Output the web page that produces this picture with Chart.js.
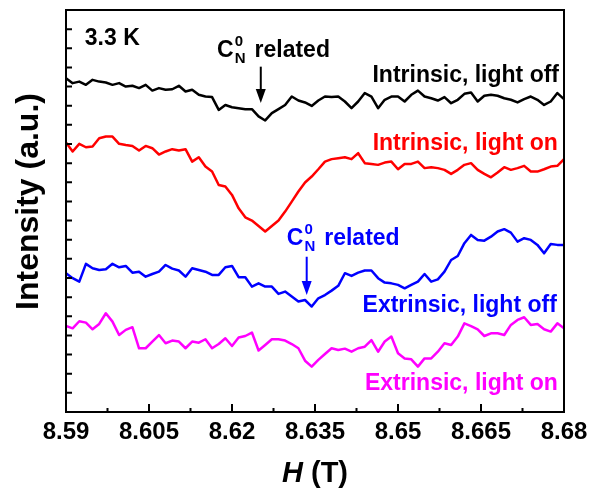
<!DOCTYPE html>
<html>
<head>
<meta charset="utf-8">
<script src="https://cdn.jsdelivr.net/npm/chart.js@4.4.0/dist/chart.umd.min.js"></script>
<style>
  html, body { margin: 0; padding: 0; background: #fff; }
</style>
</head>
<body>
<canvas id="odmr" width="590" height="494"></canvas>
<script>
// magnetic field grid (T)
const field = [
  8.59, 8.5912, 8.5924, 8.5936, 8.5948, 8.596, 8.5972, 8.5984, 8.5996, 8.6008,
  8.602, 8.6032, 8.6044, 8.6056, 8.6068, 8.608, 8.6092, 8.6104, 8.6116, 8.6128,
  8.614, 8.6152, 8.6164, 8.6176, 8.6188, 8.62, 8.6212, 8.6224, 8.6236, 8.6248,
  8.626, 8.6272, 8.6284, 8.6296, 8.6308, 8.632, 8.6332, 8.6344, 8.6356, 8.6368,
  8.638, 8.6392, 8.6404, 8.6416, 8.6428, 8.644, 8.6452, 8.6464, 8.6476, 8.6488,
  8.65, 8.6512, 8.6524, 8.6536, 8.6548, 8.656, 8.6572, 8.6584, 8.6596, 8.6608,
  8.662, 8.6632, 8.6644, 8.6656, 8.6668, 8.668, 8.6692, 8.6704, 8.6716, 8.6728,
  8.674, 8.6752, 8.6764, 8.6776, 8.6788, 8.68
];

// intensities (a.u., curves offset vertically)
const intrinsicOff = [
  17.44, 17.18, 17.26, 17.09, 17.35, 17.26, 17.21, 17.09, 17.18, 17.00,
  17.04, 16.92, 17.09, 16.79, 16.92, 16.83, 16.86, 17.04, 16.74, 16.83,
  16.57, 16.48, 16.45, 15.78, 16.04, 15.92, 15.87, 15.82, 15.82, 15.44,
  15.23, 15.61, 15.82, 16.04, 16.48, 16.27, 16.17, 15.99, 16.27, 16.48,
  16.45, 16.48, 16.22, 15.87, 16.22, 16.66, 16.48, 15.87, 16.31, 16.48,
  16.48, 16.22, 16.57, 16.79, 16.48, 16.39, 16.27, 16.45, 16.13, 16.31,
  16.62, 16.69, 16.22, 16.52, 16.57, 16.52, 16.39, 16.31, 16.17, 16.34,
  16.48, 16.31, 16.04, 16.22, 16.66, 16.34
];
const intrinsicOn = [
  14.08, 13.61, 14.01, 13.83, 13.87, 14.30, 14.39, 14.39, 14.01, 13.95,
  13.90, 13.66, 13.90, 13.78, 13.45, 13.61, 13.73, 13.66, 13.73, 13.08,
  13.31, 12.82, 12.56, 11.86, 11.78, 11.34, 10.64, 10.17, 10.00, 9.72,
  9.43, 9.72, 10.00, 10.47, 10.99, 11.52, 11.99, 12.30, 12.68, 13.08,
  13.21, 13.26, 13.31, 13.21, 13.52, 13.00, 12.96, 12.91, 13.03, 13.08,
  12.68, 12.96, 12.96, 13.08, 12.74, 12.79, 12.74, 12.65, 12.44, 12.65,
  12.91, 13.00, 12.65, 12.44, 12.26, 12.51, 12.79, 12.65, 12.74, 12.86,
  12.56, 12.56, 12.68, 12.82, 12.86, 13.21
];
const extrinsicOff = [
  7.25, 6.99, 6.81, 7.74, 7.51, 7.42, 7.46, 7.74, 7.56, 7.63,
  7.28, 7.33, 7.07, 7.21, 7.33, 7.68, 7.49, 7.39, 7.07, 7.51,
  7.42, 7.33, 7.16, 7.16, 7.56, 7.63, 7.04, 7.04, 6.55, 6.72,
  6.55, 6.55, 6.17, 6.29, 6.03, 5.77, 5.85, 5.51, 5.94, 6.11,
  6.34, 6.59, 7.25, 7.11, 7.28, 7.39, 7.39, 6.99, 6.76, 6.72,
  6.64, 6.46, 6.64, 6.81, 7.21, 6.81, 6.93, 7.33, 7.94, 8.15,
  8.82, 9.25, 8.99, 8.95, 9.16, 9.43, 9.55, 9.37, 8.90, 9.08,
  8.99, 8.73, 8.29, 8.78, 8.73, 8.73
];
const extrinsicOn = [
  4.49, 4.37, 4.74, 4.67, 4.32, 4.60, 5.16, 4.72, 4.02, 4.29,
  4.43, 3.33, 3.33, 3.68, 4.02, 3.59, 3.73, 3.68, 3.33, 3.68,
  3.62, 3.80, 3.33, 3.55, 3.85, 3.45, 3.89, 3.97, 4.15, 3.21,
  3.50, 3.80, 3.80, 3.73, 3.55, 3.33, 2.68, 2.37, 2.72, 3.03,
  3.33, 3.24, 3.31, 3.15, 3.33, 3.41, 3.76, 3.15, 3.68, 3.94,
  3.07, 2.80, 2.75, 2.37, 2.80, 2.80, 3.15, 3.59, 3.50, 3.94,
  4.63, 4.49, 4.32, 3.97, 4.11, 4.11, 4.02, 4.55, 4.81, 4.95,
  4.55, 4.60, 4.32, 4.20, 4.63, 4.37
];

const xTicks = [8.59, 8.605, 8.62, 8.635, 8.65, 8.665, 8.68];
const xMinorTicks = [8.5975, 8.6125, 8.6275, 8.6425, 8.6575, 8.6725];
const yTicks = [1, 2, 3, 4, 5, 6, 7, 8, 9, 10, 11, 12, 13, 14, 15, 16, 17, 18, 19, 20];

// text labels placed in data coordinates (baseline)
const notes = [
  { text: "3.3 K", x: 8.5934, y: 19.17, color: "#000", align: "left" },
  { text: "Intrinsic, light off", x: 8.6791, y: 17.24, color: "#000", align: "right" },
  { text: "Intrinsic, light on", x: 8.6789, y: 13.69, color: "#ff0000", align: "right" },
  { text: "Extrinsic, light off", x: 8.6787, y: 5.22, color: "#0000ff", align: "right" },
  { text: "Extrinsic, light on", x: 8.6789, y: 1.15, color: "#ff00ff", align: "right" },
];
// C_N^0 related markers: label start, arrow x, arrow top, arrow tip
const markers = [
  { x: 8.6173, y: 18.55, arrowX: 8.6252, from: 18.04, to: 16.14, color: "#000" },
  { x: 8.6299, y: 8.73, arrowX: 8.6335, from: 8.11, to: 6.11, color: "#0000ff" },
];

const FONT = '"Liberation Sans", Arial, sans-serif';

const serie = (label, vals, color) => ({
  label,
  data: field.map((h, i) => ({ x: h, y: vals[i] })),
  borderColor: color,
  borderWidth: 2.5,
  borderJoinStyle: "round",
  borderCapStyle: "round",
  pointRadius: 0,
  tension: 0,
  fill: false,
});

const decor = {
  id: "decor",
  afterDraw(chart) {
    const { ctx, chartArea: a } = chart,
      sx = chart.scales.x,
      sy = chart.scales.y;
    ctx.save();
    ctx.strokeStyle = "#000";
    ctx.lineWidth = 2;
    ctx.strokeRect(a.left, a.top, a.right - a.left, a.bottom - a.top);
    ctx.beginPath();
    xTicks.forEach((v) => {
      const p = sx.getPixelForValue(v);
      ctx.moveTo(p, a.bottom);
      ctx.lineTo(p, a.bottom - 8);
    });
    xMinorTicks.forEach((v) => {
      const p = sx.getPixelForValue(v);
      ctx.moveTo(p, a.bottom);
      ctx.lineTo(p, a.bottom - 4);
    });
    yTicks.forEach((v) => {
      const p = sy.getPixelForValue(v);
      ctx.moveTo(a.left, p);
      ctx.lineTo(a.left + 6, p);
    });
    ctx.stroke();

    // labels
    ctx.font = "bold 23px " + FONT;
    ctx.textBaseline = "alphabetic";
    notes.forEach((n) => {
      ctx.fillStyle = n.color;
      ctx.textAlign = n.align;
      ctx.fillText(n.text, sx.getPixelForValue(n.x), sy.getPixelForValue(n.y));
    });

    markers.forEach((m) => {
      const x0 = sx.getPixelForValue(m.x),
        y0 = sy.getPixelForValue(m.y);
      ctx.fillStyle = m.color;
      ctx.strokeStyle = m.color;
      ctx.textAlign = "left";
      ctx.font = "bold 23px " + FONT;
      ctx.fillText("C", x0, y0);
      const wc = ctx.measureText("C").width;
      ctx.font = "bold 15px " + FONT;
      ctx.fillText("0", x0 + wc + 1, y0 - 11);
      ctx.fillText("N", x0 + wc + 1, y0 + 6);
      const wn = ctx.measureText("N").width;
      ctx.font = "bold 23px " + FONT;
      ctx.fillText("related", x0 + wc + wn + 10, y0);
      // arrow
      const ax = sx.getPixelForValue(m.arrowX),
        top = sy.getPixelForValue(m.from),
        tip = sy.getPixelForValue(m.to);
      ctx.lineWidth = 2;
      ctx.beginPath();
      ctx.moveTo(ax, top);
      ctx.lineTo(ax, tip - 12);
      ctx.stroke();
      ctx.beginPath();
      ctx.moveTo(ax - 5, tip - 14);
      ctx.lineTo(ax + 5, tip - 14);
      ctx.lineTo(ax, tip);
      ctx.closePath();
      ctx.fill();
    });

    // axis titles
    ctx.fillStyle = "#000";
    ctx.textAlign = "left";
    ctx.font = "italic bold 29px " + FONT;
    const hw = ctx.measureText("H").width;
    ctx.font = "bold 29px " + FONT;
    const tw = ctx.measureText(" (T)").width;
    const cx = (a.left + a.right) / 2 - (hw + tw) / 2;
    ctx.font = "italic bold 29px " + FONT;
    ctx.fillText("H", cx, 482);
    ctx.font = "bold 29px " + FONT;
    ctx.fillText(" (T)", cx + hw, 482);

    ctx.translate(37.5, 201.5);
    ctx.rotate(-Math.PI / 2);
    ctx.textAlign = "center";
    ctx.font = "bold 32px " + FONT;
    ctx.fillText("Intensity (a.u.)", 0, 0);
    ctx.restore();
  },
};

new Chart(document.getElementById("odmr").getContext("2d"), {
  type: "line",
  data: {
    datasets: [
      serie("Intrinsic, light off", intrinsicOff, "#000000"),
      serie("Intrinsic, light on", intrinsicOn, "#ff0000"),
      serie("Extrinsic, light off", extrinsicOff, "#0000ff"),
      serie("Extrinsic, light on", extrinsicOn, "#ff00ff"),
    ],
  },
  options: {
    responsive: false,
    animation: false,
    layout: { padding: { left: 0, right: 26, top: 10, bottom: 0 } },
    plugins: { legend: { display: false }, tooltip: { enabled: false } },
    scales: {
      x: {
        type: "linear",
        min: 8.59,
        max: 8.68,
        afterBuildTicks: (s) => {
          s.ticks = xTicks.map((v) => ({ value: v }));
        },
        afterFit: (s) => {
          s.height = 82;
          s.paddingLeft = 0;
          s.paddingRight = 0;
        },
        grid: { display: false, drawTicks: false },
        border: { display: false },
        ticks: {
          autoSkip: false,
          maxRotation: 0,
          padding: 6,
          color: "#000",
          font: { family: FONT, size: 24, weight: "bold" },
          callback: (v) => String(v),
        },
      },
      y: {
        min: 0,
        max: 21,
        afterFit: (s) => {
          s.width = 66;
        },
        grid: { display: false, drawTicks: false },
        border: { display: false },
        ticks: { display: false },
      },
    },
  },
  plugins: [decor],
});
</script>
</body>
</html>
